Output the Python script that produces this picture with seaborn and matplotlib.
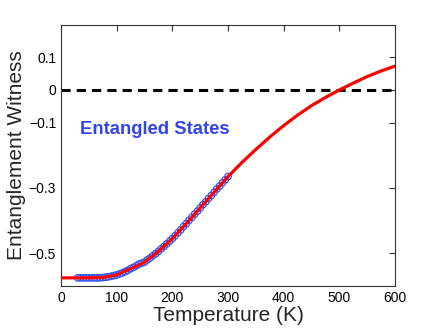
import numpy as np
import pandas as pd
import seaborn as sns
import matplotlib
matplotlib.use("Agg")
import matplotlib.pyplot as plt

# fitted curve (every 25 K)
curve_T = [0, 25, 50, 75, 100, 125, 150, 175, 200, 225, 250, 275, 300,
           325, 350, 375, 400, 425, 450, 475, 500, 525, 550, 575, 600]
curve_W = [-0.575, -0.575, -0.575, -0.574, -0.566, -0.547, -0.527, -0.494,
           -0.455, -0.409, -0.361, -0.313, -0.265, -0.222, -0.182, -0.144,
           -0.109, -0.077, -0.048, -0.023, 0.000, 0.021, 0.041, 0.058, 0.073]

# measured points (open circles), 30..300 K every 5 K
data_T = list(range(30, 301, 5))
data_W = [-0.575, -0.575, -0.575, -0.575, -0.575, -0.575, -0.575, -0.575,
          -0.575, -0.574, -0.573, -0.572, -0.570, -0.568, -0.566, -0.563,
          -0.560, -0.556, -0.552, -0.547, -0.543, -0.538, -0.533, -0.530,
          -0.527, -0.520, -0.514, -0.507, -0.501, -0.494, -0.486, -0.479,
          -0.471, -0.463, -0.455, -0.446, -0.437, -0.428, -0.418, -0.409,
          -0.399, -0.390, -0.380, -0.371, -0.361, -0.351, -0.342, -0.332,
          -0.323, -0.313, -0.303, -0.294, -0.284, -0.275, -0.265]

y_ticks = [-0.5, -0.3, -0.1, 0, 0.1]
y_labels = ["\u22120.5", "\u22120.3", "\u22120.1", "0", "0.1"]
x_ticks = [0, 100, 200, 300, 400, 500, 600]

sns.set_style("white")
plt.rcParams["font.family"] = ["Liberation Sans", "DejaVu Sans"]

fig = plt.figure(figsize=(4.36, 3.28), dpi=100)
ax = fig.add_axes([0.140, 0.128, 0.766, 0.797])

df_pts = pd.DataFrame({"T": data_T, "W": data_W})
df_fit = pd.DataFrame({"T": curve_T, "W": curve_W})

sns.scatterplot(data=df_pts, x="T", y="W", ax=ax, s=22, marker="o",
                facecolors="none", edgecolor="#3355ee", linewidth=0.9, zorder=2)
sns.lineplot(data=df_fit, x="T", y="W", ax=ax, color="#ff0000", linewidth=2.3,
             zorder=3)
ax.axhline(0, color="black", linestyle=(0, (3, 2)), linewidth=2.2, zorder=1)

ax.text(34, -0.122, "Entangled States", color="#3344ee", fontsize=13.3,
        fontweight="bold", va="center", ha="left")

ax.set_xlim(0, 600)
ax.set_ylim(-0.6, 0.2)
ax.set_xticks(x_ticks)
ax.set_yticks(y_ticks)
ax.set_yticklabels(y_labels)
ax.tick_params(direction="in", length=4, width=0.8, labelsize=10,
               top=True, right=True, colors="#333333", labelcolor="black")
for sp in ax.spines.values():
    sp.set_color("#333333")
    sp.set_linewidth(0.8)
ax.set_xlabel("Temperature (K)", fontsize=15, labelpad=1)
ax.set_ylabel("Entanglement Witness", fontsize=15, labelpad=2)

fig.savefig("out.png", dpi=100)
